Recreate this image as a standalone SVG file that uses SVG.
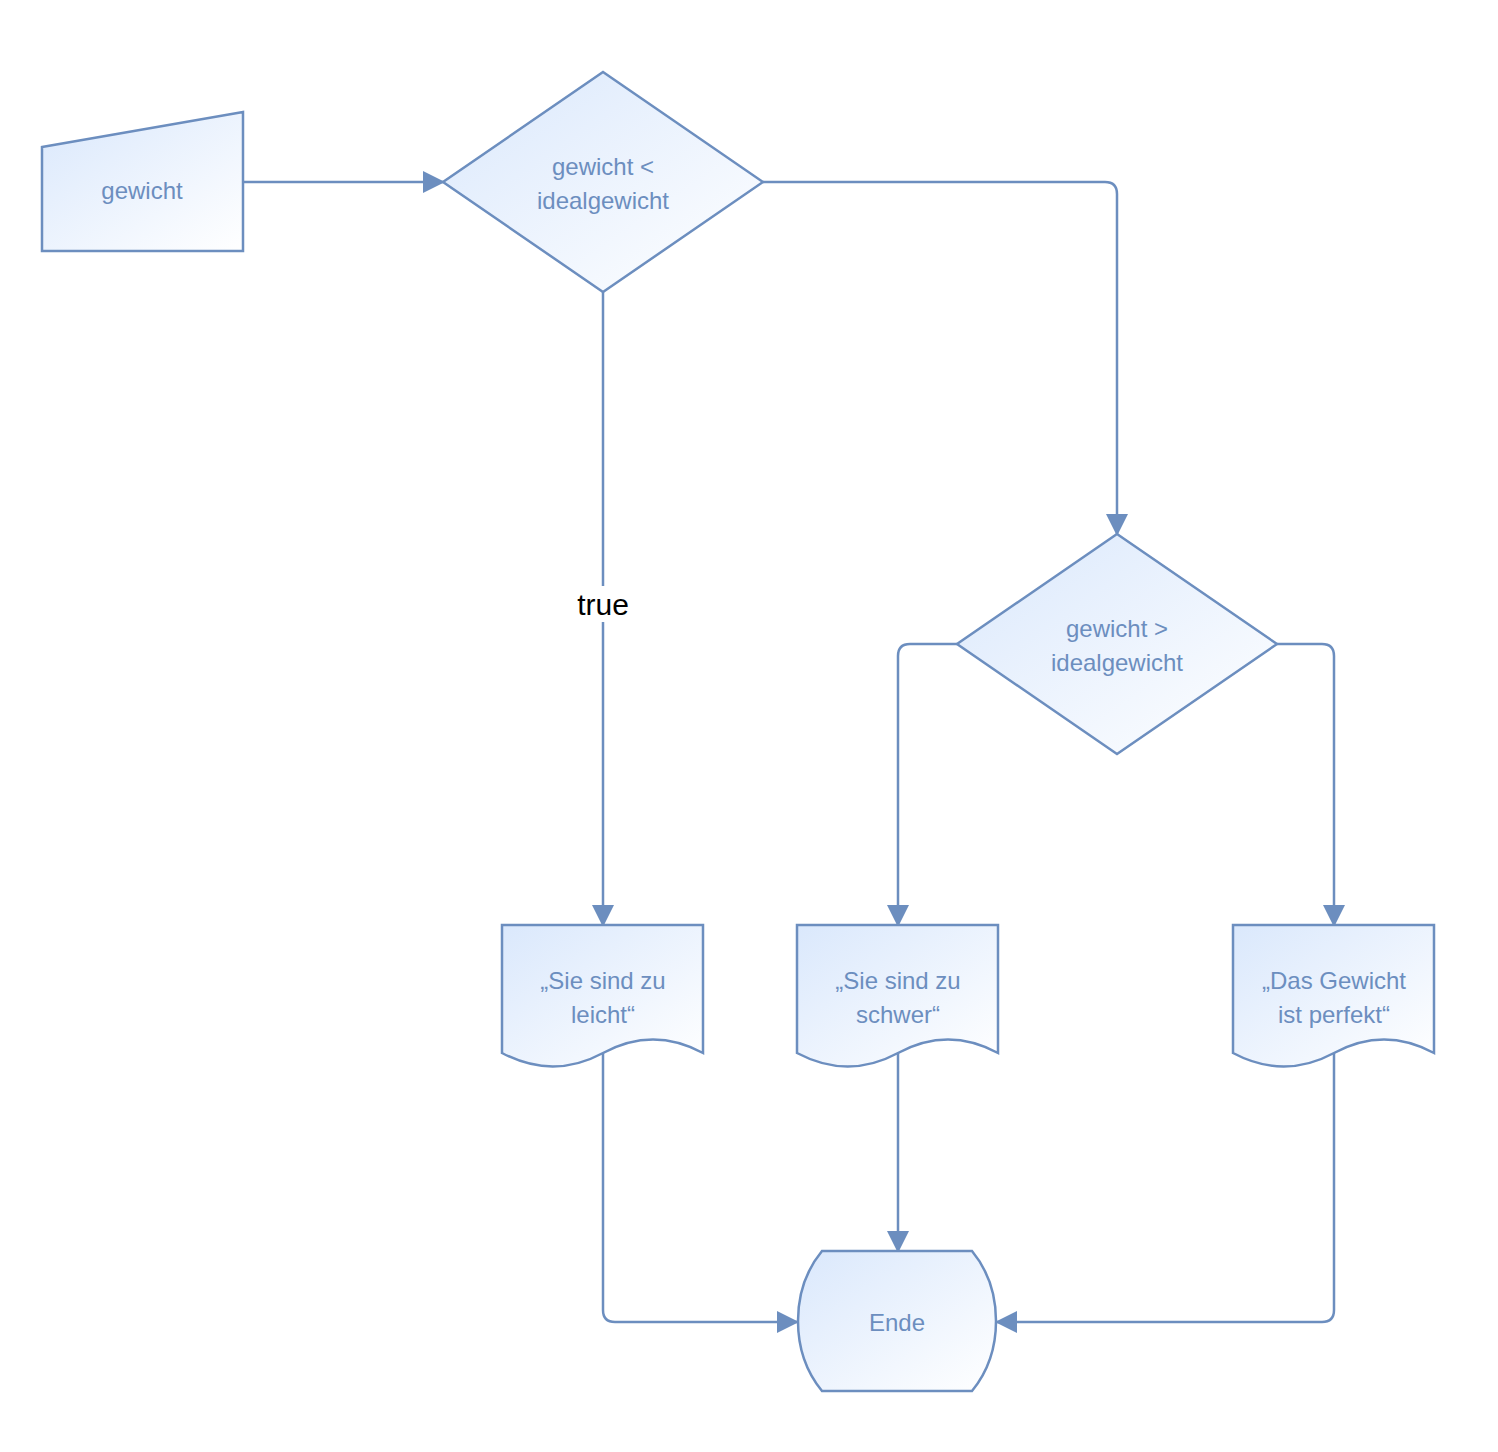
<svg xmlns="http://www.w3.org/2000/svg" width="1498" height="1452" viewBox="0 0 1498 1452">
<defs>
<linearGradient id="g" x1="0" y1="0" x2="1" y2="1"><stop offset="0" stop-color="#dae8fc"/><stop offset="1" stop-color="#ffffff"/></linearGradient>
<marker id="a" markerWidth="10" markerHeight="10" refX="9" refY="5" orient="auto" markerUnits="userSpaceOnUse" viewBox="0 0 10 10"><path d="M0,0 L10,5 L0,10 Z" fill="#6c8ebf"/></marker>
<marker id="b" markerWidth="22" markerHeight="22" refX="20" refY="11" orient="auto" markerUnits="userSpaceOnUse"><path d="M0,0 L22,11 L0,22 Z" fill="#6c8ebf"/></marker>
</defs>
<style>
.s{fill:url(#g);stroke:#6c8ebf;stroke-width:2.5}
.t{font-family:"Liberation Sans",Arial,sans-serif;font-size:24px;fill:#6c8ebf;text-anchor:middle}
.c{fill:none;stroke:#6c8ebf;stroke-width:2.5;marker-end:url(#b)}
</style>
<g id="connectors">
<path class="c" d="M243,182 H443"/>
<path class="c" d="M603,292 V925"/>
<path class="c" d="M763,182 H1105 Q1117,182 1117,194 V534"/>
<path class="c" d="M957,644 H910 Q898,644 898,656 V925"/>
<path class="c" d="M1277,644 H1322 Q1334,644 1334,656 V925"/>
<path class="c" d="M603,1053 V1310 Q603,1322 615,1322 H797"/>
<path class="c" d="M898,1053 V1251"/>
<path class="c" d="M1334,1053 V1310 Q1334,1322 1322,1322 H997"/>
<rect x="568" y="586" width="70" height="36" fill="#fff"/>
<text x="603" y="615" style="font-family:'Liberation Sans',Arial,sans-serif;font-size:30px;fill:#000;text-anchor:middle">true</text>
</g>
<g id="input"><polygon class="s" points="42,147 243,112 243,251 42,251"/><text class="t" x="142" y="199">gewicht</text></g>
<g id="d1"><polygon class="s" points="603,72 763,182 603,292 443,182"/><text class="t" x="603" y="175">gewicht &lt;</text><text class="t" x="603" y="209">idealgewicht</text></g>
<g id="d2"><polygon class="s" points="1117,534 1277,644 1117,754 957,644"/><text class="t" x="1117" y="637">gewicht &gt;</text><text class="t" x="1117" y="671">idealgewicht</text></g>
<g id="doc1"><path class="s" d="M502,925 H703 V1053 Q653,1026 603,1053 T502,1053 Z"/><text class="t" x="603" y="989">„Sie sind zu</text><text class="t" x="603" y="1023">leicht“</text></g>
<g id="doc2"><path class="s" d="M797,925 H998 V1053 Q948,1026 898,1053 T797,1053 Z"/><text class="t" x="898" y="989">„Sie sind zu</text><text class="t" x="898" y="1023">schwer“</text></g>
<g id="doc3"><path class="s" d="M1233,925 H1434 V1053 Q1384,1026 1334,1053 T1233,1053 Z"/><text class="t" x="1334" y="989">„Das Gewicht</text><text class="t" x="1334" y="1023">ist perfekt“</text></g>
<g id="ende"><path class="s" d="M822,1251 H972 C1004,1290 1004,1352 972,1391 H822 C790,1352 790,1290 822,1251 Z"/><text class="t" x="897" y="1331">Ende</text></g>
</svg>
